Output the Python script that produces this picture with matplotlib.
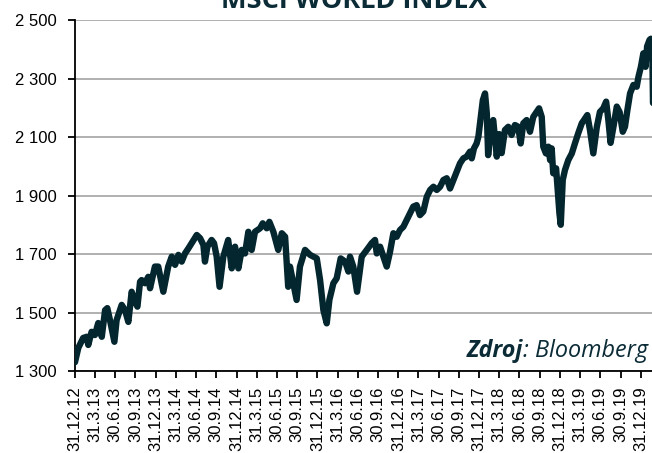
import pandas as pd
import matplotlib
matplotlib.use("Agg")
import matplotlib.pyplot as plt
from matplotlib.ticker import FuncFormatter

# MSCI World index
dates = [
    "2012-12-31", "2013-01-15", "2013-02-06", "2013-02-22", "2013-03-01", "2013-03-16",
    "2013-03-31", "2013-04-15", "2013-05-01", "2013-05-16", "2013-05-26", "2013-06-07",
    "2013-06-27", "2013-07-07", "2013-07-30", "2013-08-14", "2013-08-29", "2013-09-13",
    "2013-09-28", "2013-10-09", "2013-10-21", "2013-10-28", "2013-11-12", "2013-11-27",
    "2013-12-05", "2013-12-27", "2014-01-11", "2014-02-03", "2014-02-25", "2014-03-13",
    "2014-03-28", "2014-04-12", "2014-04-27", "2014-05-12", "2014-05-27", "2014-06-11",
    "2014-07-04", "2014-07-19", "2014-08-03", "2014-08-10", "2014-08-21", "2014-09-09",
    "2014-09-20", "2014-10-02", "2014-10-15", "2014-11-01", "2014-11-23", "2014-12-09",
    "2014-12-24", "2015-01-08", "2015-01-23", "2015-02-07", "2015-02-22", "2015-03-09",
    "2015-03-24", "2015-04-16", "2015-04-28", "2015-05-16", "2015-05-28", "2015-06-15",
    "2015-07-07", "2015-07-23", "2015-08-07", "2015-08-21", "2015-08-29", "2015-09-10",
    "2015-09-28", "2015-10-13", "2015-11-05", "2015-11-28", "2015-12-28", "2016-01-12",
    "2016-01-27", "2016-02-11", "2016-02-23", "2016-03-12", "2016-03-27", "2016-04-14",
    "2016-05-04", "2016-05-19", "2016-05-26", "2016-06-10", "2016-06-27", "2016-07-18",
    "2016-08-10", "2016-09-01", "2016-09-16", "2016-09-24", "2016-10-09", "2016-10-24",
    "2016-11-08", "2016-11-23", "2016-12-08", "2016-12-23", "2017-01-07", "2017-01-22",
    "2017-02-06", "2017-02-21", "2017-03-08", "2017-03-23", "2017-04-07", "2017-04-22",
    "2017-05-08", "2017-05-23", "2017-06-07", "2017-06-22", "2017-07-07", "2017-07-22",
    "2017-08-06", "2017-08-21", "2017-09-05", "2017-09-20", "2017-10-05", "2017-10-20",
    "2017-11-04", "2017-11-19", "2017-11-27", "2017-12-07", "2017-12-19", "2017-12-27",
    "2018-01-07", "2018-01-16", "2018-01-26", "2018-02-03", "2018-02-09", "2018-02-21",
    "2018-03-04", "2018-03-20", "2018-03-31", "2018-04-11", "2018-04-26", "2018-05-11",
    "2018-05-26", "2018-06-10", "2018-06-25", "2018-07-06", "2018-07-18", "2018-08-02",
    "2018-08-17", "2018-09-01", "2018-09-16", "2018-09-27", "2018-10-09", "2018-10-16",
    "2018-10-28", "2018-11-08", "2018-11-16", "2018-11-23", "2018-11-30", "2018-12-13",
    "2018-12-19", "2018-12-28", "2019-01-03", "2019-01-12", "2019-01-22", "2019-02-06",
    "2019-02-22", "2019-03-08", "2019-03-23", "2019-04-08", "2019-04-23", "2019-05-03",
    "2019-05-15", "2019-05-30", "2019-06-15", "2019-06-29", "2019-07-14", "2019-07-27",
    "2019-08-06", "2019-08-16", "2019-08-29", "2019-09-13", "2019-09-26", "2019-10-10",
    "2019-10-20", "2019-10-31", "2019-11-12", "2019-11-27", "2019-12-12", "2019-12-20",
    "2019-12-31", "2020-01-11", "2020-01-21", "2020-01-28", "2020-02-08", "2020-02-14",
    "2020-02-20", "2020-02-25",
]
values = [
    1330, 1379, 1413, 1417, 1389, 1434,
    1423, 1464, 1417, 1508, 1515, 1474,
    1400, 1474, 1526, 1508, 1468, 1571,
    1537, 1520, 1605, 1611, 1600, 1622,
    1583, 1657, 1657, 1571, 1657, 1691,
    1663, 1697, 1674, 1702, 1719, 1737,
    1765, 1754, 1731, 1674, 1725, 1748,
    1737, 1691, 1588, 1691, 1748, 1651,
    1725, 1651, 1714, 1702, 1776, 1714,
    1776, 1788, 1805, 1788, 1810, 1776,
    1714, 1771, 1759, 1588, 1657, 1611,
    1543, 1657, 1714, 1697, 1685, 1611,
    1508, 1463, 1543, 1600, 1617, 1685,
    1674, 1640, 1691, 1657, 1571, 1691,
    1714, 1737, 1748, 1702, 1725, 1691,
    1657, 1708, 1771, 1759, 1782, 1793,
    1816, 1839, 1862, 1867, 1833, 1845,
    1896, 1919, 1930, 1919, 1930, 1953,
    1959, 1924, 1953, 1981, 2010, 2027,
    2033, 2050, 2027, 2061, 2078, 2101,
    2169, 2226, 2249, 2181, 2038, 2135,
    2158, 2033, 2110, 2045, 2124, 2135,
    2107, 2141, 2135, 2078, 2147, 2158,
    2118, 2169, 2186, 2198, 2169, 2067,
    2044, 2067, 2021, 2061, 1976, 1993,
    1930, 1839, 1800, 1953, 1987, 2021,
    2044, 2078, 2113, 2147, 2164, 2175,
    2124, 2044, 2135, 2186, 2198, 2221,
    2158, 2080, 2135, 2204, 2185, 2118,
    2135, 2192, 2249, 2278, 2272, 2306,
    2340, 2386, 2340, 2410, 2432, 2436,
    2430, 2135,
]
y_ticks = [1300, 1500, 1700, 1900, 2100, 2300, 2500]
tick_dates = pd.date_range("2012-12-31", "2019-12-31", freq="QE")
tick_labels = [f"{d.day}.{d.month}.{d:%y}" for d in tick_dates]

line_color = "#03262f"
text_color = "#0b2b36"

plt.rcParams["font.family"] = ["Liberation Sans", "DejaVu Sans"]

fig = plt.figure(figsize=(6.52, 4.53), dpi=100)
ax = fig.add_axes([0.115, 0.181, 0.8887, 0.7748])

x = pd.to_datetime(dates)
ax.plot(x, values, color=line_color, linewidth=4.6,
        solid_joinstyle="round", solid_capstyle="round", zorder=3)

ax.set_xlim(pd.Timestamp("2012-12-31"), pd.Timestamp("2020-03-01"))
ax.set_ylim(1300, 2500)
ax.set_yticks(y_ticks)
ax.yaxis.set_major_formatter(FuncFormatter(lambda v, p: f"{v:,.0f}".replace(",", " ")))
ax.set_xticks(tick_dates)
ax.set_xticklabels(tick_labels, rotation=90, va="top", ha="center")

ax.grid(axis="y", color="#b0b0b0", linewidth=1.4)
ax.set_axisbelow(True)
for s in ["top", "right"]:
    ax.spines[s].set_visible(False)
ax.spines["left"].set_linewidth(1.3)
ax.spines["bottom"].set_linewidth(1.3)
ax.tick_params(axis="y", length=5, width=1.3, pad=8, labelsize=12)
ax.tick_params(axis="x", length=5, width=1.3, pad=6, labelsize=12)

fig.text(0.542, 0.982, "MSCI WORLD INDEX", ha="center", va="baseline",
         fontsize=19.5, fontweight="bold", family="Open Sans", color=text_color)

# source note: bold "Zdroj" followed by italic ": Bloomberg"
src = fig.text(648 / 652, 1 - 357 / 453, ": Bloomberg", ha="right", va="baseline",
               fontsize=16.8, style="italic", family="Open Sans", color=text_color)
renderer = fig.canvas.get_renderer()
bb = src.get_window_extent(renderer=renderer)
fig.text(bb.x0 / fig.bbox.width, 1 - 357 / 453, "Zdroj", ha="right", va="baseline",
         fontsize=16.8, style="italic", fontweight="bold", family="Open Sans",
         color=text_color)

fig.savefig("out.png", dpi=100)
